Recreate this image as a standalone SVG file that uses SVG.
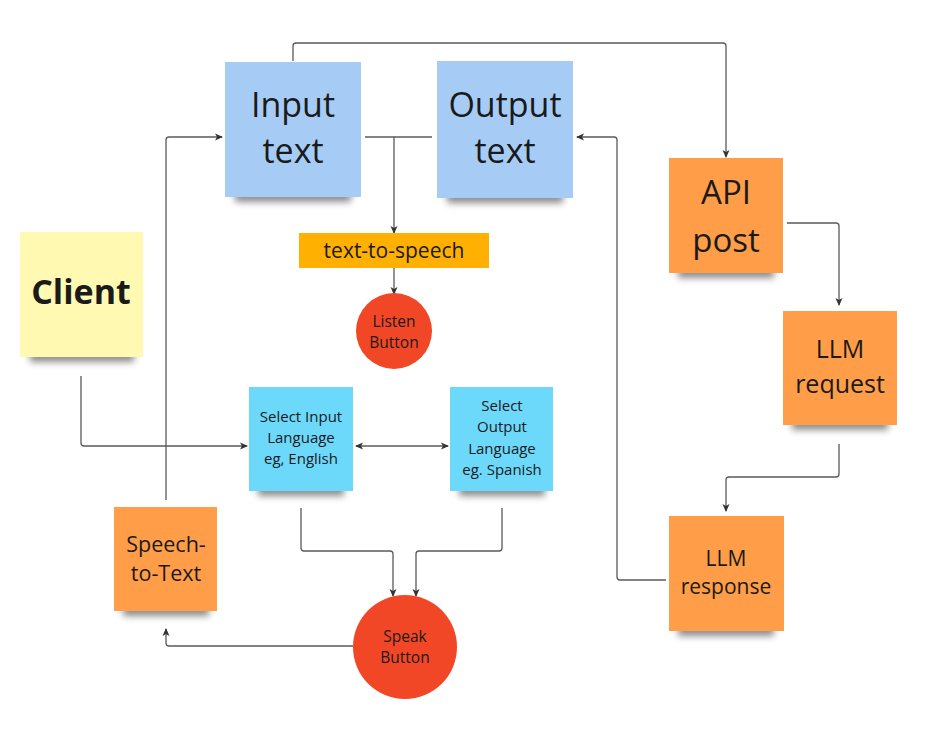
<svg xmlns="http://www.w3.org/2000/svg" width="936" height="738" viewBox="0 0 936 738">
<defs>
<style>
text{font-family:"Open Sans","Liberation Sans",sans-serif;fill:#1a1a1a;text-anchor:middle}
.c{fill:none;stroke:#5a5a5a;stroke-width:1.3}
.sh{fill:#000;opacity:0.45;filter:url(#blur)}
</style>
<filter id="blur" x="-20%" y="-100%" width="140%" height="300%"><feGaussianBlur stdDeviation="3.5"/></filter>
<marker id="ar" viewBox="0 0 8 8" refX="7" refY="4" markerWidth="8" markerHeight="8" markerUnits="userSpaceOnUse" orient="auto-start-reverse">
<path d="M0,0.5 L8,4 L0,7.5 L2,4 z" fill="#333"/>
</marker>
</defs>
<rect width="936" height="738" fill="#fff"/>
<g id="connectors">
<path class="c" d="M293,61 V46 Q293,43 296,43 H723 Q726,43 726,46 V157" marker-end="url(#ar)"/>
<path class="c" d="M365,137 H432"/>
<path class="c" d="M394,137 V233" marker-end="url(#ar)"/>
<path class="c" d="M394,268 V294" marker-end="url(#ar)"/>
<path class="c" d="M81,376 V443 Q81,446 84,446 H247" marker-end="url(#ar)"/>
<path class="c" d="M356,446 H448" marker-start="url(#ar)" marker-end="url(#ar)"/>
<path class="c" d="M301,508 V548 Q301,551 304,551 H390 Q393,551 393,554 V596" marker-end="url(#ar)"/>
<path class="c" d="M502,508 V548 Q502,551 499,551 H419 Q416,551 416,554 V596" marker-end="url(#ar)"/>
<path class="c" d="M353,646 H169 Q166,646 166,643 V629" marker-end="url(#ar)"/>
<path class="c" d="M166,500 V140 Q166,137 169,137 H222" marker-end="url(#ar)"/>
<path class="c" d="M787,223 H836 Q839,223 839,226 V305" marker-end="url(#ar)"/>
<path class="c" d="M839,444 V474 Q839,477 836,477 H729 Q726,477 726,480 V511" marker-end="url(#ar)"/>
<path class="c" d="M666,580 H620 Q617,580 617,577 V140 Q617,137 614,137 H577" marker-end="url(#ar)"/>
</g>
<g id="input-text">
<rect class="sh" x="235" y="190" width="116" height="12"/>
<rect x="225" y="62" width="136" height="135" fill="#a6ccf5"/>
<text x="293" y="117" font-size="34">Input</text>
<text x="293" y="163" font-size="34">text</text>
</g>
<g id="output-text">
<rect class="sh" x="447" y="191" width="116" height="12"/>
<rect x="437" y="61" width="136" height="137" fill="#a6ccf5"/>
<text x="505" y="117" font-size="34">Output</text>
<text x="505" y="163" font-size="34">text</text>
</g>
<g id="api-post">
<rect class="sh" x="678" y="266" width="96" height="12"/>
<rect x="669" y="158" width="114" height="115" fill="#ff9d48"/>
<text x="726" y="204" font-size="33">API</text>
<text x="726" y="252" font-size="33">post</text>
</g>
<g id="llm-request">
<rect class="sh" x="792" y="418" width="96" height="12"/>
<rect x="783" y="311" width="114" height="114" fill="#ff9d48"/>
<text x="840" y="358" font-size="25">LLM</text>
<text x="840" y="393" font-size="25">request</text>
</g>
<g id="llm-response">
<rect class="sh" x="678" y="624" width="96" height="12"/>
<rect x="669" y="516" width="115" height="115" fill="#ff9d48"/>
<text x="726" y="566" font-size="21">LLM</text>
<text x="726" y="594" font-size="21">response</text>
</g>
<g id="client">
<rect class="sh" x="30" y="350" width="104" height="12"/>
<rect x="20" y="232" width="123" height="125" fill="#fff9b1"/>
<text x="81" y="304" font-size="34" font-weight="bold">Client</text>
</g>
<g id="text-to-speech">
<rect x="299" y="233" width="190" height="35" fill="#ffb000"/>
<text x="394" y="258" font-size="21">text-to-speech</text>
</g>
<g id="listen-button">
<circle cx="394" cy="331" r="38" fill="#f24726"/>
<text x="394" y="327" font-size="15.5">Listen</text>
<text x="394" y="348" font-size="15.5">Button</text>
</g>
<g id="select-input">
<rect class="sh" x="258" y="484" width="86" height="12"/>
<rect x="249" y="387" width="104" height="104" fill="#6cd8fa"/>
<text x="301" y="422" font-size="15">Select Input</text>
<text x="301" y="443" font-size="15">Language</text>
<text x="301" y="464" font-size="15">eg, English</text>
</g>
<g id="select-output">
<rect class="sh" x="459" y="484" width="86" height="12"/>
<rect x="450" y="387" width="103" height="104" fill="#6cd8fa"/>
<text x="502" y="411" font-size="15">Select</text>
<text x="502" y="432" font-size="15">Output</text>
<text x="502" y="454" font-size="15">Language</text>
<text x="502" y="475" font-size="15">eg. Spanish</text>
</g>
<g id="speech-to-text">
<rect class="sh" x="123" y="604" width="86" height="12"/>
<rect x="114" y="507" width="103" height="104" fill="#ff9d48"/>
<text x="166" y="552" font-size="21.5">Speech-</text>
<text x="166" y="581" font-size="21.5">to-Text</text>
</g>
<g id="speak-button">
<circle cx="405" cy="647" r="52" fill="#f24726"/>
<text x="405" y="642" font-size="15.5">Speak</text>
<text x="405" y="663" font-size="15.5">Button</text>
</g>
</svg>
